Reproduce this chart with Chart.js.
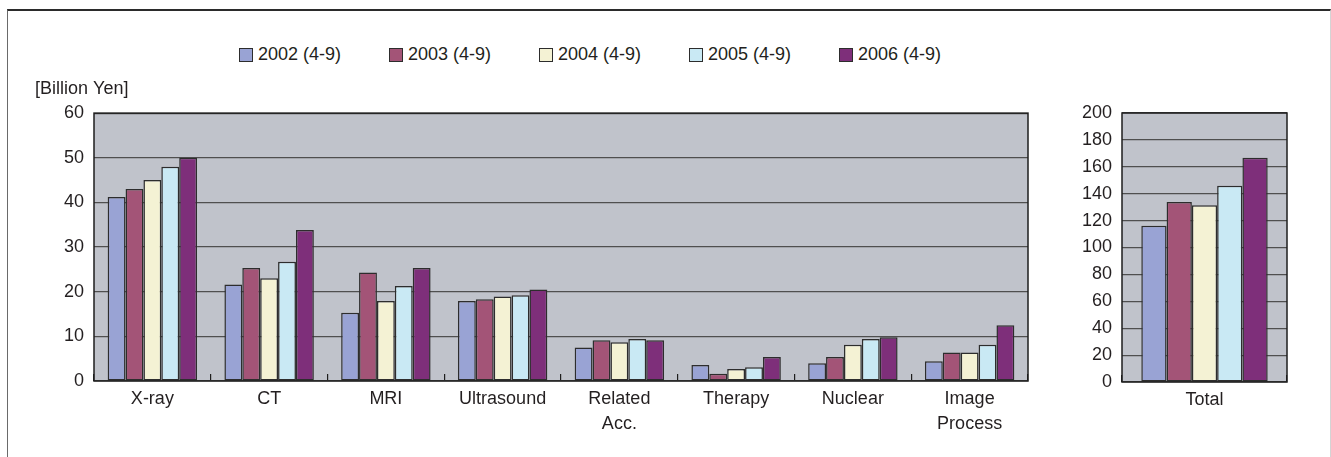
<!DOCTYPE html>
<html>
<head>
<meta charset="utf-8">
<script src="https://cdn.jsdelivr.net/npm/chart.js@4.4.1/dist/chart.umd.min.js"></script>
<style>
  html, body { margin: 0; padding: 0; background: #fff; }
  #wrap { position: relative; width: 1331px; height: 457px; overflow: hidden; font-family: 'Liberation Sans', Arial, sans-serif; }
  #frame { position: absolute; left: 7px; top: 9px; width: 1322px; height: 470px;
           border-top: 2px solid #2b2b2b; border-left: 1px solid #6a6a6a; border-right: 1px solid #d4d4d4; }
  #legend { position: absolute; left: 239px; top: 44px; display: flex; }
  #legend .item { width: 150px; display: flex; align-items: center; font-size: 18px; color: #231f20; }
  #legend .box { width: 12px; height: 12px; border: 1px solid #2d2d2d; margin-right: 5px; }
  #mainChart { position: absolute; left: 0; top: 0; }
  #totalChart { position: absolute; left: 1060px; top: 0; }
</style>
</head>
<body>
<div id="wrap">
  <div id="frame"></div>
  <div id="legend"></div>
  <canvas id="mainChart" width="1060" height="457"></canvas>
  <canvas id="totalChart" width="271" height="457"></canvas>
</div>
<script>
// Donnees (milliards de yens, avril-septembre)
const categories = ['X-ray', 'CT', 'MRI', 'Ultrasound', ['Related', 'Acc.'], 'Therapy', 'Nuclear', ['Image', 'Process']];
const seriesLabels = ['2002 (4-9)', '2003 (4-9)', '2004 (4-9)', '2005 (4-9)', '2006 (4-9)'];
const v2002 = [41.2, 21.6, 15.3, 17.9, 7.5, 3.6, 4.0, 4.4];
const v2003 = [43.0, 25.3, 24.3, 18.3, 9.1, 1.6, 5.4, 6.4];
const v2004 = [45.0, 23.0, 17.9, 18.9, 8.7, 2.7, 8.1, 6.4];
const v2005 = [48.0, 26.7, 21.3, 19.2, 9.4, 3.1, 9.4, 8.1];
const v2006 = [50.0, 33.8, 25.3, 20.5, 9.1, 5.4, 9.8, 12.5];
const totalLabel = ['Total'];
const totals = [116.1, 133.9, 131.4, 146.0, 166.8];
const mainTicks = { max: 60, step: 10 };
const totalTicks = { max: 200, step: 20 };
const unitLabel = '[Billion Yen]';

const COLORS = ['#99a3d4', '#a35477', '#f4f2d4', '#c9e9f4', '#7e2f7a'];
const BORDER = '#2d2d2d';
const GRID = '#4f4f4f';

Chart.defaults.font.family = "'Liberation Sans', Arial, sans-serif";
Chart.defaults.font.size = 18;
Chart.defaults.color = '#231f20';

// fond gris + cadre noir de la zone de trace
const plotFrame = {
  id: 'plotFrame',
  beforeDraw(chart) {
    const { ctx, chartArea: a } = chart;
    ctx.save();
    ctx.fillStyle = '#c0c3cb';
    ctx.fillRect(a.left, a.top, a.width, a.height);
    ctx.restore();
  },
  afterDraw(chart) {
    const { ctx, chartArea: a } = chart;
    ctx.save();
    ctx.strokeStyle = '#1e1e1e';
    ctx.lineWidth = 1.5;
    ctx.strokeRect(a.left, a.top, a.width, a.height);
    ctx.restore();
  },
};

// legende HTML
const legendEl = document.getElementById('legend');
seriesLabels.forEach((lbl, i) => {
  const it = document.createElement('div');
  it.className = 'item';
  const b = document.createElement('span');
  b.className = 'box';
  b.style.background = COLORS[i];
  it.appendChild(b);
  it.appendChild(document.createTextNode(lbl));
  legendEl.appendChild(it);
});

function makeDatasets(seriesData) {
  return seriesData.map((d, i) => ({
    label: seriesLabels[i],
    data: d,
    backgroundColor: COLORS[i],
    borderColor: BORDER,
    borderWidth: 1.5,
    borderSkipped: false,
    categoryPercentage: 0.766,
    barPercentage: 1,
  }));
}

function scalesFor(ticks, yWidth, xHeight) {
  return {
    x: {
      grid: { display: true, drawOnChartArea: false, drawTicks: true, tickLength: -7, color: '#1e1e1e', lineWidth: 1.2 },
      border: { display: false },
      ticks: { padding: 12.5, font: { size: 18, lineHeight: 1.38 }, maxRotation: 0, autoSkip: false },
      afterFit: s => { s.height = xHeight; },
    },
    y: {
      min: 0,
      max: ticks.max,
      grid: { color: GRID, lineWidth: 1.2, drawTicks: false },
      border: { display: false },
      ticks: { stepSize: ticks.step, padding: 10 },
      afterFit: s => { s.width = yWidth; },
    },
  };
}

// ─── Graphique principal par modalite ───
new Chart(document.getElementById('mainChart'), {
  type: 'bar',
  data: {
    labels: categories,
    datasets: makeDatasets([v2002, v2003, v2004, v2005, v2006]),
  },
  options: {
    responsive: false,
    animation: false,
    layout: { padding: { left: 35, right: 32, top: 0, bottom: 0 } },
    plugins: {
      legend: { display: false },
      tooltip: { enabled: false },
      title: {
        display: true,
        text: unitLabel,
        align: 'start',
        font: { size: 18, weight: 'normal' },
        color: '#231f20',
        padding: { top: 78, bottom: 13.5 },
      },
    },
    scales: scalesFor(mainTicks, 59, 76),
  },
  plugins: [plotFrame],
});

// ─── Graphique total ───
new Chart(document.getElementById('totalChart'), {
  type: 'bar',
  data: {
    labels: totalLabel,
    datasets: makeDatasets(totals.map(v => [v])),
  },
  options: {
    responsive: false,
    animation: false,
    layout: { padding: { left: 0, right: 44, top: 113, bottom: 0 } },
    plugins: {
      legend: { display: false },
      tooltip: { enabled: false },
    },
    scales: scalesFor(totalTicks, 62, 75),
  },
  plugins: [plotFrame],
});
</script>
</body>
</html>
